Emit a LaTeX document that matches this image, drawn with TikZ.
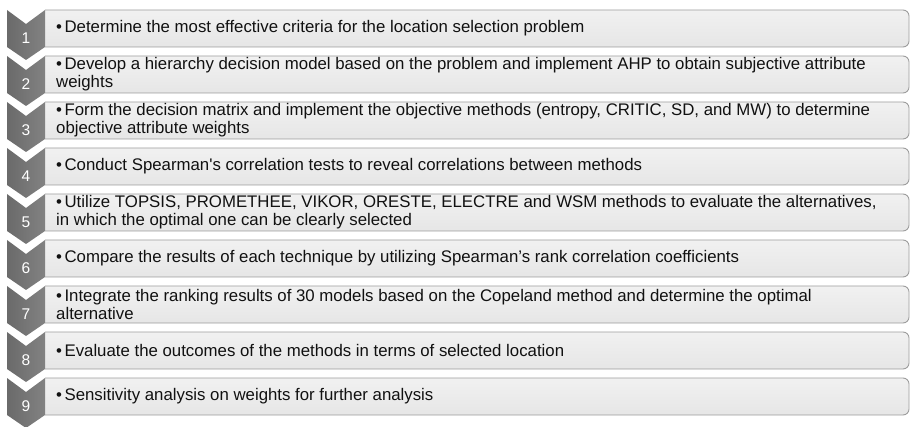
\documentclass[tikz,border=0pt]{standalone}
\usepackage{fontspec}
\setmainfont{Liberation Sans}[Ligatures=TeXOff]
\definecolor{boxtop}{HTML}{F1F1F1}
\definecolor{boxbot}{HTML}{E6E6E6}
\definecolor{boxline}{HTML}{9C9C9C}
\definecolor{chevL}{HTML}{6A6A6A}
\definecolor{chevR}{HTML}{828282}
\definecolor{txtcol}{HTML}{111111}
\tikzset{
  boxstyle/.style={top color=boxtop, bottom color=boxbot, draw=boxline, line width=0.9pt, rounded corners=6pt},
  chevstyle/.style={left color=chevL, right color=chevR},
  numstyle/.style={text=white, font=\fontsize{15.5}{15.5}\selectfont, inner sep=0pt},
  txtstyle/.style={anchor=west, align=left, text=txtcol, font=\fontsize{16.8}{17.8}\selectfont, inner sep=0pt}
}
\newcommand{\chevitem}[2]{%
  \pgfmathsetmacro{\cyt}{10+46*(#1-1)}%
  \pgfmathsetmacro{\cyb}{\cyt+37}%
  \pgfmathsetmacro{\cym}{\cyt+18.5}%
  \path[boxstyle] (45,\cyt) -- (909,\cyt) -- (909,\cyb) -- (45,\cyb);
  \path[chevstyle] (7,\cyt) -- (26,\cyt+14) -- (45,\cyt) -- (45,\cyb) -- (26,\cyt+50) -- (7,\cyb) -- cycle;
  \node[numstyle] (num#1) at (26,\cyt+28) {#1};
  \node[txtstyle] (txt#1) at (56,\cym) {\textbullet\hspace{2.5pt}#2};
}
\begin{document}
\begin{tikzpicture}[x=1pt,y=-1pt]
\useasboundingbox (0,0) rectangle (912,427);
\chevitem{1}{Determine the most effective criteria for the location selection problem}
\chevitem{2}{Develop a hierarchy decision model based on the problem and implement AHP to obtain subjective attribute\\weights}
\chevitem{3}{Form the decision matrix and implement the objective methods (entropy, CRITIC, SD, and MW) to determine\\objective attribute weights}
\chevitem{4}{Conduct Spearman's correlation tests to reveal correlations between methods}
\chevitem{5}{Utilize TOPSIS, PROMETHEE, VIKOR, ORESTE, ELECTRE and WSM methods to evaluate the alternatives,\\in which the optimal one can be clearly selected}
\chevitem{6}{Compare the results of each technique by utilizing Spearman’s rank correlation coefficients}
\chevitem{7}{Integrate the ranking results of 30 models based on the Copeland method and determine the optimal\\alternative}
\chevitem{8}{Evaluate the outcomes of the methods in terms of selected location}
\chevitem{9}{Sensitivity analysis on weights for further analysis}
\end{tikzpicture}
\end{document}
